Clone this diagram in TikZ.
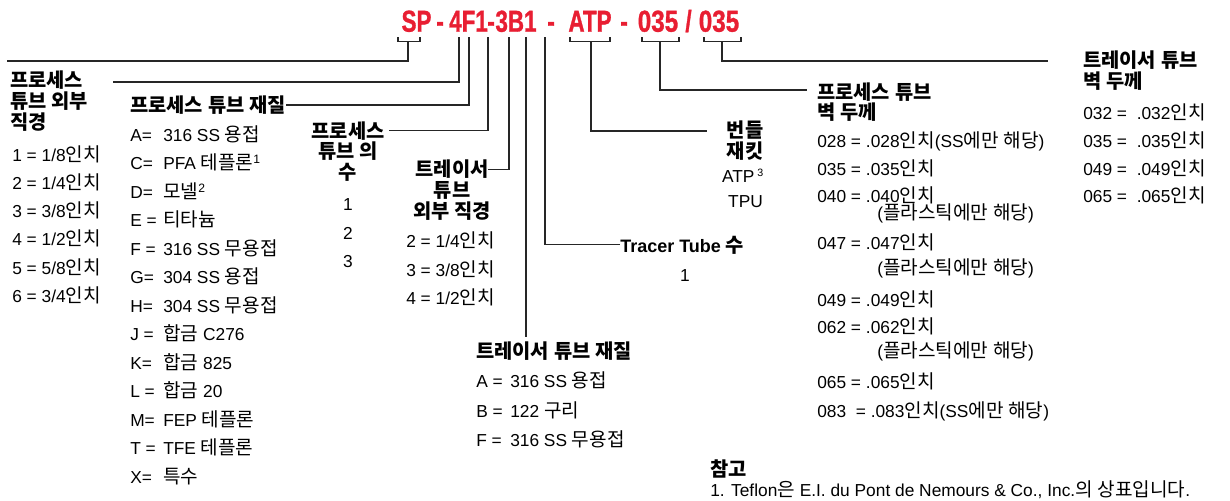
\documentclass[tikz,border=0pt]{standalone}
\usepackage{fontspec}
\setmainfont{Liberation Sans}
\newfontfamily\krfont[Scale=1.1]{Noto Sans CJK KR}
\newfontface\codefont[FakeStretch=0.74, FakeBold=1]{Liberation Sans Bold}
\newfontface\codewide[FakeStretch=0.8, FakeBold=1]{Liberation Sans Bold}
\usetikzlibrary{positioning}
\definecolor{codered}{RGB}{232,30,50}

% hangul goes to the CJK font
\XeTeXinterchartokenstate=1
\newXeTeXintercharclass\hangulclass
\count255="AC00
\loop\ifnum\count255<"D7A4
  \XeTeXcharclass\count255=\hangulclass
  \advance\count255 by 1
\repeat
\XeTeXinterchartoks 0 \hangulclass = {\krfont}
\XeTeXinterchartoks 4095 \hangulclass = {\krfont}
\XeTeXinterchartoks \hangulclass 0 = {\rmfamily}
\XeTeXinterchartoks \hangulclass 4095 = {\rmfamily}

\tikzstyle{code} = [text=codered, font=\codefont\fontsize{22.7}{24}\selectfont, inner sep=0, anchor=base]
\tikzstyle{codenum} = [code, font=\codewide\fontsize{22.7}{24}\selectfont]
\tikzstyle{head} = [font=\bfseries\fontsize{13.5}{15.5}\selectfont, inner sep=0, anchor=base west, align=left]
\tikzstyle{entry} = [font=\fontsize{13}{15}\selectfont, inner sep=0, anchor=base west]
\tikzstyle{lead} = [draw=black!85, line width=1pt]

\begin{document}
\begin{tikzpicture}[x=0.75pt, y=-0.75pt]
				\useasboundingbox (0,0) rectangle (1230,500);

				% part number
				\node (SP) [code] at (416.5, 31.7) {SP};
				\node (DashA) [code] at (440, 31.7) {-};
				\node (Size) [code] at (468.5, 31.7) {4F1};
				\node (DashB) [code] at (491, 31.7) {-};
				\node (Tracer) [code] at (516, 31.7) {3B1};
				\node (DashC) [code] at (551, 31.7) {-};
				\node (Jacket) [code] at (590, 31.7) {ATP};
				\node (DashD) [code] at (624, 31.7) {-};
				\node (WallP) [codenum] at (658, 31.7) {035};
				\node (Slash) [code] at (688.5, 31.7) {/};
				\node (WallT) [codenum] at (719, 31.7) {035};

				% process tube outer diameter
				\node (OuterHead) [head] at (10, 129) {프로세스\\튜브 외부\\직경};
				\node (Outer1) [entry] at (12, 161) {1 = 1/8인치};
				\node (Outer2) [entry] at (12, 189.3) {2 = 1/4인치};
				\node (Outer3) [entry] at (12, 217.6) {3 = 3/8인치};
				\node (Outer4) [entry] at (12, 245.9) {4 = 1/2인치};
				\node (Outer5) [entry] at (12, 274.2) {5 = 5/8인치};
				\node (Outer6) [entry] at (12, 302.5) {6 = 3/4인치};

				% process tube material
				\node (MatHead) [head] at (130, 112.5) {프로세스 튜브 재질};
				\node (Mat1) [entry] at (130, 141) {\makebox[24.75pt][l]{A=}316 SS 용접};
				\node (Mat2) [entry] at (130, 169.5) {\makebox[24.75pt][l]{C=}PFA 테플론\textsuperscript{1}};
				\node (Mat3) [entry] at (130, 198) {\makebox[24.75pt][l]{D=}모넬\textsuperscript{2}};
				\node (Mat4) [entry] at (130, 226.5) {\makebox[24.75pt][l]{E =}티타늄};
				\node (Mat5) [entry] at (130, 255) {\makebox[24.75pt][l]{F =}316 SS 무용접};
				\node (Mat6) [entry] at (130, 283.5) {\makebox[24.75pt][l]{G=}304 SS 용접};
				\node (Mat7) [entry] at (130, 312) {\makebox[24.75pt][l]{H=}304 SS 무용접};
				\node (Mat8) [entry] at (130, 340.5) {\makebox[24.75pt][l]{J =}합금 C276};
				\node (Mat9) [entry] at (130, 369) {\makebox[24.75pt][l]{K=}합금 825};
				\node (Mat10) [entry] at (130, 397.5) {\makebox[24.75pt][l]{L =}합금 20};
				\node (Mat11) [entry] at (130, 426) {\makebox[24.75pt][l]{M=}FEP 테플론};
				\node (Mat12) [entry] at (130, 454.5) {\makebox[24.75pt][l]{T =}TFE 테플론};
				\node (Mat13) [entry] at (130, 483) {\makebox[24.75pt][l]{X=}특수};

				% number of process tubes
				\node (CountHead) [head, align=center, anchor=base] at (348, 179.5) {프로세스\\튜브 의\\수};
				\node (Count1) [entry, anchor=base] at (348, 210) {1};
				\node (Count2) [entry, anchor=base] at (348, 239) {2};
				\node (Count3) [entry, anchor=base] at (348, 267.7) {3};

				% tracer tube outer diameter
				\node (TrOdHead) [head, align=center, anchor=base] at (452, 218) {트레이서\\튜브\\외부 직경};
				\node (TrOd1) [entry] at (406, 247.7) {2 = 1/4인치};
				\node (TrOd2) [entry] at (406, 276) {3 = 3/8인치};
				\node (TrOd3) [entry] at (406, 304.3) {4 = 1/2인치};

				% tracer tube material
				\node (TrMatHead) [head] at (476, 358) {트레이서 튜브 재질};
				\node (TrMat1) [entry] at (476, 387.7) {\makebox[25.5pt][l]{A =}316 SS 용접};
				\node (TrMat2) [entry] at (476, 417.7) {\makebox[25.5pt][l]{B =}122 구리};
				\node (TrMat3) [entry] at (476, 446) {\makebox[25.5pt][l]{F =}316 SS 무용접};

				% number of tracer tubes
				\node (TrCountHead) [head] at (620, 252) {Tracer Tube 수};
				\node (TrCount1) [entry, anchor=base] at (685, 281) {1};

				% bundle jacket
				\node (JacketHead) [head, align=center, anchor=base] at (745, 158) {번들\\재킷};
				\node (Jacket1) [entry, anchor=base] at (743, 182.7) {ATP\,\textsuperscript{\footnotesize 3}};
				\node (Jacket2) [entry, anchor=base] at (745.5, 207.7) {TPU};

				% process tube wall
				\node (PWallHead) [head] at (817, 119.8) {프로세스 튜브\\벽 두께};
				\node (PWall1) [entry] at (817, 147.7) {028 = .028인치(SS에만 해당)};
				\node (PWall2) [entry] at (817, 175.3) {035 = .035인치};
				\node (PWall3) [entry] at (817, 202) {040 = .040인치};
				\node (PWall3b) [entry] at (877, 219.3) {(플라스틱에만 해당)};
				\node (PWall4) [entry] at (817, 249.3) {047 = .047인치};
				\node (PWall4b) [entry] at (877, 274.3) {(플라스틱에만 해당)};
				\node (PWall5) [entry] at (817, 306) {049 = .049인치};
				\node (PWall6) [entry] at (817, 333.3) {062 = .062인치};
				\node (PWall6b) [entry] at (877, 357.7) {(플라스틱에만 해당)};
				\node (PWall7) [entry] at (817, 388.7) {065 = .065인치};
				\node (PWall8) [entry] at (817, 417.7) {083\ \ = .083인치(SS에만 해당)};

				% tracer tube wall
				\node (TWallHead) [head] at (1083, 88) {트레이서 튜브\\벽 두께};
				\node (TWall1) [entry] at (1083, 119.3) {032 = \ .032인치};
				\node (TWall2) [entry] at (1083, 147.7) {035 = \ .035인치};
				\node (TWall3) [entry] at (1083, 175.3) {049 = \ .049인치};
				\node (TWall4) [entry] at (1083, 202.7) {065 = \ .065인치};

				% notes
				\node (NoteHead) [head] at (710, 476.5) {참고};
				\node (Note1) [entry] at (710, 496) {1. Teflon은 E.I. du Pont de Nemours \& Co., Inc.의 상표입니다.};

				% leaders
				\coordinate (SPl) at (398, 37);
				\coordinate (SPr) at (420, 37);
				\coordinate (SPs) at (408, 41.5);
				\coordinate (SPEnd) at (7, 61);
				\draw[lead] (SPl) |- (SPs) -| (SPr);
				\draw[lead] (SPs) |- (SPEnd);

				\coordinate (P4) at (459, 37);
				\coordinate (P4End) at (113, 82);
				\draw[lead] (P4) |- (P4End);

				\coordinate (PF) at (469, 37);
				\draw[lead] (PF) |- (MatHead.east);

				\coordinate (P1) at (488, 37);
				\coordinate (P1End) at (389, 130.7);
				\draw[lead] (P1) |- (P1End);

				\coordinate (P3) at (509, 37);
				\coordinate (P3End) at (488, 169.5);
				\draw[lead] (P3) |- (P3End);

				\coordinate (PB) at (526, 37);
				\coordinate (PBEnd) at (526, 337);
				\draw[lead] (PB) -- (PBEnd);

				\coordinate (P1b) at (545, 37);
				\draw[lead] (P1b) |- (TrCountHead.west);

				\coordinate (ATPl) at (570, 37);
				\coordinate (ATPr) at (610, 37);
				\coordinate (ATPs) at (591, 41.5);
				\coordinate (ATPEnd) at (707, 131);
				\draw[lead] (ATPl) |- (ATPs) -| (ATPr);
				\draw[lead] (ATPs) |- (ATPEnd);

				\coordinate (PWl) at (642, 37);
				\coordinate (PWr) at (679, 37);
				\coordinate (PWs) at (660, 41.5);
				\coordinate (PWEnd) at (807, 90);
				\draw[lead] (PWl) |- (PWs) -| (PWr);
				\draw[lead] (PWs) |- (PWEnd);

				\coordinate (TWl) at (704, 37);
				\coordinate (TWr) at (741, 37);
				\coordinate (TWs) at (722, 41.5);
				\coordinate (TWEnd) at (1048, 61);
				\draw[lead] (TWl) |- (TWs) -| (TWr);
				\draw[lead] (TWs) |- (TWEnd);
			\end{tikzpicture}
\end{document}
